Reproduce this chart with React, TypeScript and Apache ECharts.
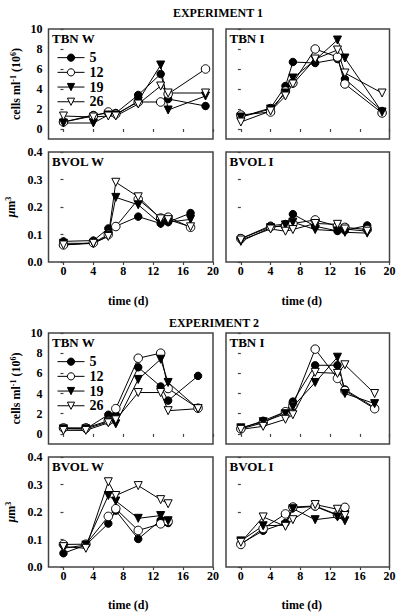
import React, { useEffect, useRef } from 'react';
import * as echarts from 'echarts';

const temps = ['5', '12', '19', '26'];
const xTickValues = [0, 4, 8, 12, 16, 20];
const tbnTickValues = [0, 2, 4, 6, 8, 10];

const e1TbnDays = [0, 4, 6, 7, 10, 13, 14, 19];
const e1BvolDays = [0, 4, 6, 7, 10, 13, 14, 17];
const e2TbnDays = [0, 3, 6, 7, 10, 13, 14, 18];
const e2BvolDays = [0, 3, 6, 7, 10, 13, 14];

// Experiment 1 — TBN W (cells ml-1, 10^6)
const e1TbnW5 = [0.7, 1.4, 1.6, 1.6, 3.4, 5.5, 3.0, 2.3];
const e1TbnW12 = [0.7, 1.3, 1.7, 1.5, 2.7, 2.7, 3.5, 6.0];
const e1TbnW19 = [0.6, 0.6, 1.4, 1.4, 2.8, 6.4, 1.9, 3.3];
const e1TbnW26 = [1.3, 1.2, 1.3, 1.3, 2.5, 4.3, 3.6, 3.6];
// Experiment 1 — TBN I
const e1TbnI5 = [1.2, 2.1, 4.3, 6.7, 6.6, 7.0, 5.0, 1.8];
const e1TbnI12 = [1.4, 1.7, 3.8, 4.6, 8.0, 7.2, 4.5, 1.6];
const e1TbnI19 = [1.2, 2.0, 3.6, 5.1, 6.9, 8.9, 7.1, 1.7];
const e1TbnI26 = [0.7, 1.8, 3.3, 4.5, 7.0, 7.9, 5.6, 3.6];
// Experiment 1 — BVOL W (µm3)
const e1BvolW5 = [0.075, 0.078, 0.122, 0.13, 0.165, 0.14, 0.145, 0.178];
const e1BvolW12 = [0.062, 0.07, 0.1, 0.129, 0.228, 0.16, 0.163, 0.126];
const e1BvolW19 = [0.068, 0.068, 0.096, 0.235, 0.208, 0.139, 0.145, 0.155];
const e1BvolW26 = [0.062, 0.068, 0.093, 0.29, 0.237, 0.157, 0.154, 0.128];
// Experiment 1 — BVOL I
const e1BvolI5 = [0.085, 0.132, 0.138, 0.174, 0.13, 0.113, 0.115, 0.133];
const e1BvolI12 = [0.085, 0.128, 0.13, 0.14, 0.153, 0.13, 0.126, 0.118];
const e1BvolI19 = [0.075, 0.125, 0.135, 0.145, 0.118, 0.113, 0.108, 0.105];
const e1BvolI26 = [0.08, 0.12, 0.112, 0.118, 0.14, 0.137, 0.12, 0.112];

// Experiment 2 — TBN W
const e2TbnW5 = [0.55, 0.5, 1.9, 1.9, 6.6, 4.7, 3.3, 5.75];
const e2TbnW12 = [0.6, 0.6, 1.3, 2.5, 7.5, 8.0, 4.5, 2.55];
const e2TbnW19 = [0.5, 0.5, 1.2, 1.0, 5.4, 7.4, 5.1, 2.5];
const e2TbnW26 = [0.35, 0.35, 1.1, 1.4, 4.1, 4.1, 2.3, 2.5];
// Experiment 2 — TBN I
const e2TbnI5 = [0.55, 1.3, 2.2, 3.2, 6.8, 6.8, 4.4, 2.6];
const e2TbnI12 = [0.5, 1.1, 2.2, 2.8, 8.4, 5.5, 4.3, 2.5];
const e2TbnI19 = [0.6, 1.2, 2.0, 2.7, 5.1, 7.6, 4.0, 3.0];
const e2TbnI26 = [0.45, 0.75, 1.45, 1.9, 6.1, 6.0, 6.85, 4.0];
// Experiment 2 — BVOL W
const e2BvolW5 = [0.05, 0.08, 0.158, 0.205, 0.102, 0.17, 0.16];
const e2BvolW12 = [0.082, 0.083, 0.184, 0.212, 0.133, 0.157, 0.166];
const e2BvolW19 = [0.068, 0.08, 0.26, 0.24, 0.177, 0.187, 0.168];
const e2BvolW26 = [0.074, 0.068, 0.31, 0.26, 0.296, 0.245, 0.23];
// Experiment 2 — BVOL I
const e2BvolI5 = [0.085, 0.132, 0.16, 0.215, 0.22, 0.188, 0.205];
const e2BvolI12 = [0.082, 0.14, 0.193, 0.218, 0.222, 0.19, 0.217];
const e2BvolI19 = [0.095, 0.15, 0.152, 0.212, 0.172, 0.182, 0.168];
const e2BvolI26 = [0.09, 0.182, 0.148, 0.172, 0.227, 0.21, 0.187];

const FONT = '"Liberation Serif", "Times New Roman", serif';
const AXIS = '#444';

type Panel = {
  label: string;
  kind: 'tbn' | 'bvol';
  left: number;
  top: number;
  width: number;
  height: number;
  isLeft: boolean;
  bottomRow: boolean;
  days: number[];
  values: number[][];
  legend?: boolean;
};

const LW = 48.5, LWID = 164.5, RL = 226, RWID = 163.5;

const panels: Panel[] = [
  { label: 'TBN W', kind: 'tbn', left: LW, top: 29, width: LWID, height: 110, isLeft: true, bottomRow: false, days: e1TbnDays, values: [e1TbnW5, e1TbnW12, e1TbnW19, e1TbnW26], legend: true },
  { label: 'TBN I', kind: 'tbn', left: RL, top: 29, width: RWID, height: 110, isLeft: false, bottomRow: false, days: e1TbnDays, values: [e1TbnI5, e1TbnI12, e1TbnI19, e1TbnI26] },
  { label: 'BVOL W', kind: 'bvol', left: LW, top: 152, width: LWID, height: 110, isLeft: true, bottomRow: true, days: e1BvolDays, values: [e1BvolW5, e1BvolW12, e1BvolW19, e1BvolW26] },
  { label: 'BVOL I', kind: 'bvol', left: RL, top: 152, width: RWID, height: 110, isLeft: false, bottomRow: true, days: e1BvolDays, values: [e1BvolI5, e1BvolI12, e1BvolI19, e1BvolI26] },
  { label: 'TBN W', kind: 'tbn', left: LW, top: 333, width: LWID, height: 111, isLeft: true, bottomRow: false, days: e2TbnDays, values: [e2TbnW5, e2TbnW12, e2TbnW19, e2TbnW26], legend: true },
  { label: 'TBN I', kind: 'tbn', left: RL, top: 333, width: RWID, height: 111, isLeft: false, bottomRow: false, days: e2TbnDays, values: [e2TbnI5, e2TbnI12, e2TbnI19, e2TbnI26] },
  { label: 'BVOL W', kind: 'bvol', left: LW, top: 457, width: LWID, height: 110, isLeft: true, bottomRow: true, days: e2BvolDays, values: [e2BvolW5, e2BvolW12, e2BvolW19, e2BvolW26] },
  { label: 'BVOL I', kind: 'bvol', left: RL, top: 457, width: RWID, height: 110, isLeft: false, bottomRow: true, days: e2BvolDays, values: [e2BvolI5, e2BvolI12, e2BvolI19, e2BvolI26] },
];

const seriesStyles = [
  { symbol: 'circle', symbolSize: 7.5, fill: '#000', rotate: 0 },
  { symbol: 'circle', symbolSize: 8.5, fill: '#fff', rotate: 0 },
  { symbol: 'triangle', symbolSize: 8, fill: '#000', rotate: 180 },
  { symbol: 'triangle', symbolSize: 8, fill: '#fff', rotate: 180 },
];

function buildOption() {
  const grid: any[] = [];
  const xAxis: any[] = [];
  const yAxis: any[] = [];
  const series: any[] = [];
  const graphic: any[] = [];
  const legend: any[] = [];

  panels.forEach((p, i) => {
    grid.push({
      left: p.left, top: p.top, width: p.width, height: p.height,
      show: true, borderColor: AXIS, borderWidth: 1.5, backgroundColor: 'transparent',
    });
    xAxis.push({
      type: 'value', gridIndex: i, min: -2, max: 20,
      axisLine: { show: false },
      splitLine: { show: false },
      axisTick: { show: true, length: 3, customValues: xTickValues, lineStyle: { color: AXIS, width: 1.2 } },
      axisLabel: {
        show: p.bottomRow, customValues: xTickValues, margin: 3,
        fontFamily: FONT, fontWeight: 'bold', fontSize: 12, color: '#000',
      },
      name: p.bottomRow ? 'time (d)' : '',
      nameLocation: 'middle',
      nameGap: i === 2 || i === 3 ? 33 : 32,
      nameTextStyle: {
        fontFamily: FONT, fontWeight: 'bold', fontSize: 12, color: '#000',
        padding: p.isLeft ? [0, 5, 0, 0] : [0, 12, 0, 0],
      },
    });
    const isTbn = p.kind === 'tbn';
    yAxis.push({
      type: 'value', gridIndex: i,
      min: isTbn ? -1 : 0, max: isTbn ? 10 : 0.4,
      interval: isTbn ? undefined : 0.1,
      axisLine: { show: false },
      splitLine: { show: false },
      axisTick: {
        show: true, length: 3, lineStyle: { color: AXIS, width: 1.2 },
        ...(isTbn ? { customValues: tbnTickValues } : {}),
      },
      axisLabel: {
        show: p.isLeft, margin: 6,
        ...(isTbn ? { customValues: tbnTickValues } : {}),
        formatter: (v: number) => (isTbn ? String(v) : v.toFixed(1)),
        fontFamily: FONT, fontWeight: 'bold', fontSize: 12, color: '#000',
      },
      name: p.isLeft ? (isTbn ? 'cells ml{sup|-1} (10{sup|6})' : '{it|μ}m{sup|3}') : '',
      nameLocation: 'middle',
      nameGap: isTbn ? 27 : 32,
      nameTextStyle: {
        fontFamily: FONT, fontWeight: 'bold', fontSize: 12, color: '#000',
        rich: {
          sup: { fontFamily: FONT, fontWeight: 'bold', fontSize: 8, verticalAlign: 'top', color: '#000' },
          it: { fontFamily: FONT, fontWeight: 'bold', fontStyle: 'italic', fontSize: 12, color: '#000' },
        },
      },
    });
    temps.forEach((t, k) => {
      const st = seriesStyles[k];
      series.push({
        type: 'line', name: t, xAxisIndex: i, yAxisIndex: i,
        data: p.days.map((d, j) => [d, p.values[k][j]]),
        symbol: st.symbol, symbolSize: st.symbolSize, symbolRotate: st.rotate,
        showSymbol: true,
        lineStyle: { color: '#000', width: 1 },
        itemStyle: { color: st.fill, borderColor: '#000', borderWidth: 1, opacity: 1 },
        emphasis: { disabled: true },
      });
    });
    graphic.push({
      type: 'text', left: p.left + 3.5, top: p.top + 3,
      style: { text: p.label, font: `bold 13px ${FONT}`, fill: '#000' },
    });
    if (p.legend) {
      legend.push({
        left: 52, top: p.top + 16.3, orient: 'vertical',
        itemWidth: 27, itemHeight: 9, itemGap: 0,
        data: temps,
        selectedMode: false,
        lineStyle: { width: 1 },
        itemStyle: { borderWidth: 1 },
        textStyle: { fontFamily: FONT, fontWeight: 'bold', fontSize: 14, color: '#000', lineHeight: 14.7 },
      });
    }
  });

  graphic.push({
    type: 'text', x: 218, y: 13,
    style: { text: 'EXPERIMENT 1', font: `bold 12px ${FONT}`, fill: '#000', textAlign: 'center', textVerticalAlign: 'middle' },
  });
  graphic.push({
    type: 'text', x: 214, y: 323,
    style: { text: 'EXPERIMENT 2', font: `bold 12px ${FONT}`, fill: '#000', textAlign: 'center', textVerticalAlign: 'middle' },
  });

  return {
    animation: false,
    backgroundColor: '#fff',
    grid, xAxis, yAxis, series, graphic, legend,
  };
}

export default function App() {
  const ref = useRef<HTMLDivElement>(null);
  useEffect(() => {
    if (!ref.current) return;
    const chart = echarts.init(ref.current, undefined, { renderer: 'svg' });
    chart.setOption(buildOption() as any);
    return () => chart.dispose();
  }, []);
  return <div ref={ref} style={{ position: 'fixed', left: 0, top: 0, width: 400, height: 612 }} />;
}
